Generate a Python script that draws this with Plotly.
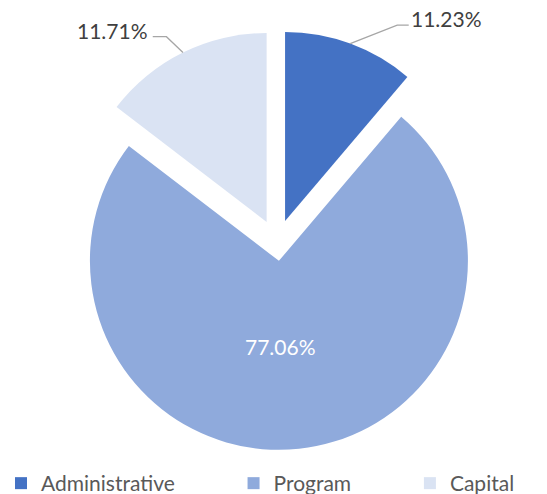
import math
import plotly.graph_objects as go

# ---- data ----
categories = ["Administrative", "Program", "Capital"]
slice_values = [11.2, 74.2, 14.6]          # slice sizes as drawn
pct_labels = ["11.23%", "77.06%", "11.71%"]  # data-label texts
colors = ["#4472C4", "#8FAADC", "#DAE3F3"]
pulls = [0.124, 0.095, 0.124]

# ---- layout geometry (page pixels; the page body adds an 8px margin) ----
W, H = 547, 494
OFF = 8
CX, CY, R = 277, 243, 189
half = R * (1 + max(pulls))
dom_x = [(CX - OFF - half) / W, (CX - OFF + half) / W]
dom_y = [1 - (CY - OFF + half) / H, 1 - (CY - OFF - half) / H]
FONT = "Lato"
PAD = "\u00a0" * 10  # spacing between legend entries


def pp(x, y):
    return (x - OFF) / W, 1 - (y - OFF) / H


# slice geometry (clockwise from 12 o'clock) to attach labels
total = sum(slice_values)
start = 0.0
apexes, rims = [], []
for v, p in zip(slice_values, pulls):
    ang = v / total * 2 * math.pi
    mid = start + ang / 2
    dx, dy = math.sin(mid), -math.cos(mid)
    ax, ay = CX + p * R * dx, CY + p * R * dy
    apexes.append((ax, ay))
    rims.append((ax + R * dx, ay + R * dy))
    start += ang

legend_labels = [c + (PAD if i < len(categories) - 1 else "") for i, c in enumerate(categories)]

fig = go.Figure(
    go.Pie(
        labels=legend_labels,
        values=slice_values,
        sort=False,
        direction="clockwise",
        rotation=0,
        pull=pulls,
        marker=dict(colors=colors, line=dict(width=0)),
        textinfo="none",
        domain=dict(x=dom_x, y=dom_y),
        hoverinfo="label+percent",
    )
)

shapes = []
annotations = []
# outside labels with elbow leader lines
specs = {0: ((47, -18.5), 11.5, "left", 0), 2: ((-16.5, -15.8), -13.7, "right", -3)}
for i, (elb, tail, anchor, nudge) in specs.items():
    rx, ry = rims[i]
    ex, ey = rx + elb[0], ry + elb[1]
    tx, ty = ex + tail, ey
    p0, p1, p2 = pp(rx, ry), pp(ex, ey), pp(tx, ty)
    shapes.append(dict(type="path", xref="paper", yref="paper",
                       path=f"M {p0[0]},{p0[1]} L {p1[0]},{p1[1]} L {p2[0]},{p2[1]}",
                       line=dict(color="#A6A6A6", width=1.3)))
    lx, ly = pp(tx + nudge, ty - 6.5)
    annotations.append(dict(x=lx, y=ly, xref="paper", yref="paper", text=pct_labels[i],
                            showarrow=False, xanchor=anchor, yanchor="middle",
                            font=dict(size=21, color="#404040", family=FONT)))

# inside label of the large slice
ax, ay = apexes[1]
lx, ly = pp(ax + 2, ay + 0.455 * R)
annotations.append(dict(x=lx, y=ly, xref="paper", yref="paper", text=pct_labels[1],
                        showarrow=False, xanchor="center", yanchor="middle",
                        font=dict(size=21, color="white", family=FONT)))

lgx, lgy = pp(8 + 252.5, 483.5)
fig.update_layout(
    width=W, height=H,
    margin=dict(l=0, r=0, t=0, b=0, autoexpand=False),
    paper_bgcolor="white",
    plot_bgcolor="white",
    shapes=shapes,
    annotations=annotations,
    showlegend=True,
    legend=dict(orientation="h", x=lgx, xanchor="center", y=lgy, yanchor="middle",
                bgcolor="rgba(0,0,0,0)",
                font=dict(size=21, color="#595959", family=FONT),
                traceorder="normal"),
)

fig.write_html("out.html")
